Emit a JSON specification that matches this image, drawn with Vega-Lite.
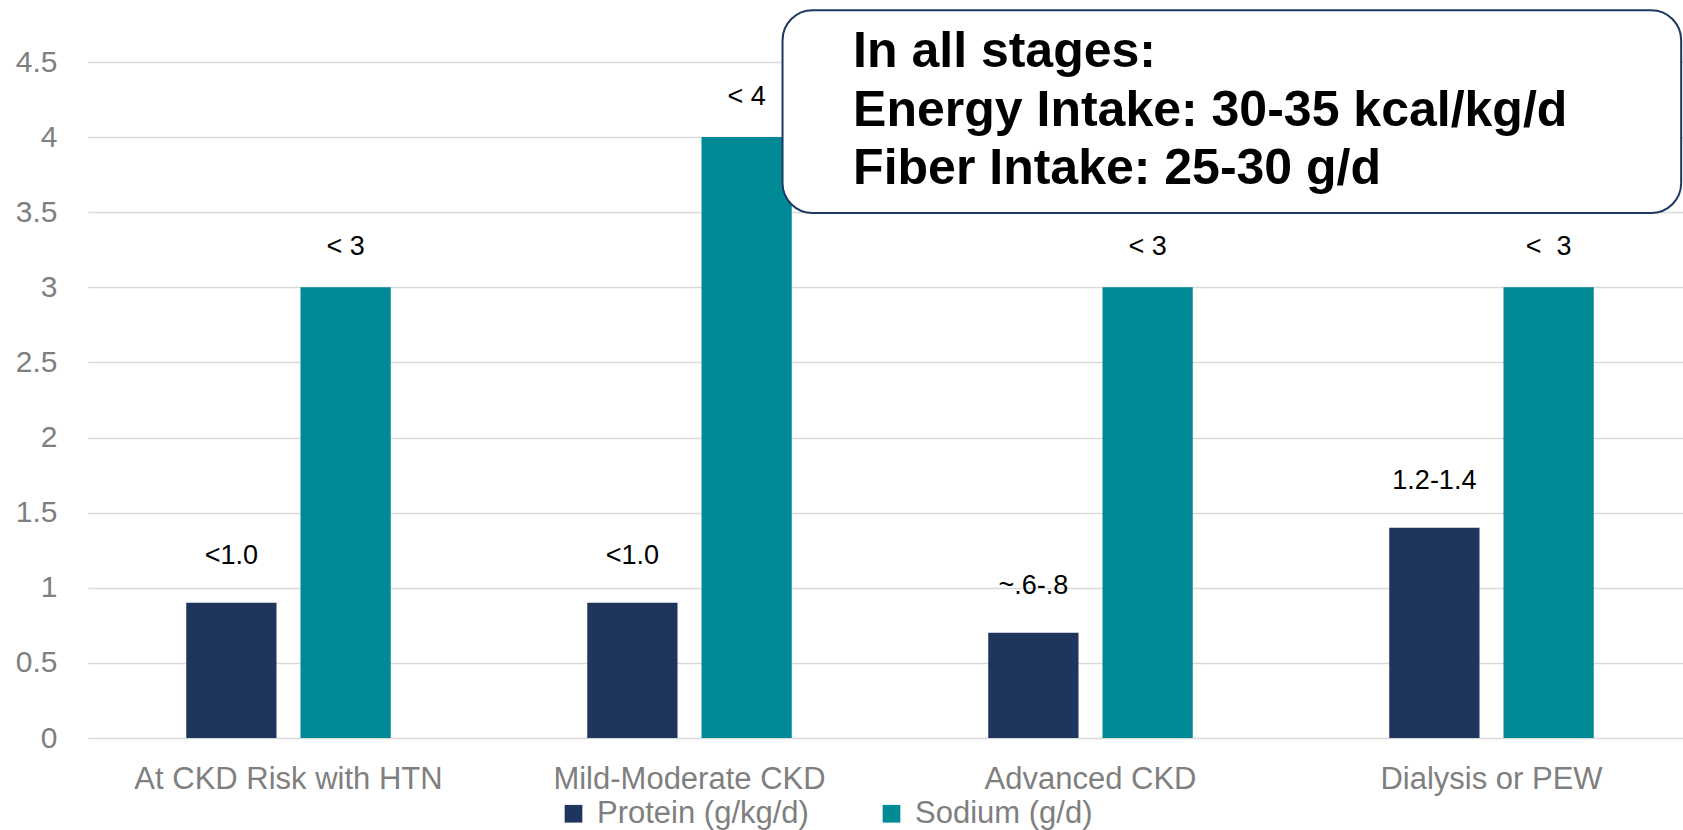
{
  "$schema": "https://vega.github.io/schema/vega-lite/v6.json",
  "width": 1595,
  "height": 676,
  "autosize": {"type": "none"},
  "padding": {"left": 88, "top": 62, "right": 0, "bottom": 92},
  "background": "white",
  "config": {
    "view": {"stroke": null},
    "font": "Liberation Sans",
    "axis": {"labelFont": "Liberation Sans", "labelColor": "#7f7f7f", "labelFontSize": 30, "labelLimit": 0}
  },
  "data": {"values": [
    {"stage": "At CKD Risk with HTN", "nutrient": "Protein (g/kg/d)", "value": 0.9, "label": "<1.0"},
    {"stage": "At CKD Risk with HTN", "nutrient": "Sodium (g/d)", "value": 3, "label": "< 3"},
    {"stage": "Mild-Moderate CKD", "nutrient": "Protein (g/kg/d)", "value": 0.9, "label": "<1.0"},
    {"stage": "Mild-Moderate CKD", "nutrient": "Sodium (g/d)", "value": 4, "label": "< 4"},
    {"stage": "Advanced CKD", "nutrient": "Protein (g/kg/d)", "value": 0.7, "label": "~.6-.8"},
    {"stage": "Advanced CKD", "nutrient": "Sodium (g/d)", "value": 3, "label": "< 3"},
    {"stage": "Dialysis or PEW", "nutrient": "Protein (g/kg/d)", "value": 1.4, "label": "1.2-1.4"},
    {"stage": "Dialysis or PEW", "nutrient": "Sodium (g/d)", "value": 3, "label": "< \u00a03"}
  ]},
  "layer": [
    {
      "encoding": {
        "x": {
          "field": "stage", "type": "nominal", "sort": null, "title": null,
          "scale": {"range": [0, 1604], "paddingInner": 0.49, "paddingOuter": 0.245},
          "axis": {"labelAngle": 0, "ticks": false, "domain": false, "labelPadding": 26, "grid": false, "labelLimit": 0, "labelFontSize": 31}
        },
        "xOffset": {"field": "nutrient", "type": "nominal", "sort": null, "scale": {"paddingInner": 0.21, "paddingOuter": 0}},
        "y": {
          "field": "value", "type": "quantitative", "title": null,
          "scale": {"domain": [0, 4.5], "nice": false, "zero": true},
          "axis": {"values": [0, 0.5, 1, 1.5, 2, 2.5, 3, 3.5, 4, 4.5], "format": "~g", "ticks": false, "domain": false, "labelPadding": 31, "gridColor": "#d9d9d9", "gridWidth": 1.5}
        }
      },
      "layer": [
        {
          "mark": {"type": "bar"},
          "encoding": {
            "color": {
              "field": "nutrient", "type": "nominal", "sort": null, "title": null,
              "scale": {"domain": ["Protein (g/kg/d)", "Sodium (g/d)"], "range": ["#1f355e", "#008a96"]},
              "legend": {
                "orient": "none", "direction": "horizontal", "legendX": 470, "legendY": 736,
                "symbolType": "square", "symbolSize": 313, "symbolStrokeWidth": 0,
                "labelFontSize": 31, "labelColor": "#7f7f7f", "labelFont": "Liberation Sans",
                "labelOffset": 8, "columnPadding": 67, "labelLimit": 0
              }
            }
          }
        },
        {
          "transform": [{"filter": "datum.nutrient === 'Protein (g/kg/d)'"}],
          "mark": {"type": "text", "baseline": "middle", "dy": -47, "fontSize": 27, "color": "#000000", "font": "Liberation Sans"},
          "encoding": {"text": {"field": "label"}}
        },
        {
          "transform": [{"filter": "datum.nutrient === 'Sodium (g/d)'"}],
          "mark": {"type": "text", "baseline": "middle", "dy": -40, "fontSize": 27, "color": "#000000", "font": "Liberation Sans"},
          "encoding": {"text": {"field": "label"}}
        }
      ]
    },
    {
      "data": {"values": [{"note": "In all stages:\nEnergy Intake: 30-35 kcal/kg/d\nFiber Intake: 25-30 g/d"}]},
      "layer": [
        {
          "mark": {"type": "rect", "fill": "white", "stroke": "#1f3864", "strokeWidth": 2, "cornerRadius": 30, "clip": false},
          "encoding": {
            "x": {"datum": 1.732, "type": "quantitative", "scale": {"domain": [0, 4], "range": [0, 1604], "nice": false, "zero": false}, "axis": null},
            "x2": {"datum": 3.973},
            "y": {"datum": 4.845, "type": "quantitative"},
            "y2": {"datum": 3.495}
          }
        },
        {
          "mark": {"type": "text", "align": "left", "baseline": "middle", "lineBreak": "\n", "lineHeight": 58.5, "fontSize": 50, "fontWeight": "bold", "color": "#000000", "font": "Liberation Sans"},
          "encoding": {
            "x": {"datum": 1.908, "type": "quantitative"},
            "y": {"datum": 4.566, "type": "quantitative"},
            "text": {"field": "note"}
          }
        }
      ]
    }
  ],
  "resolve": {"scale": {"x": "independent"}, "axis": {"x": "independent"}}
}
